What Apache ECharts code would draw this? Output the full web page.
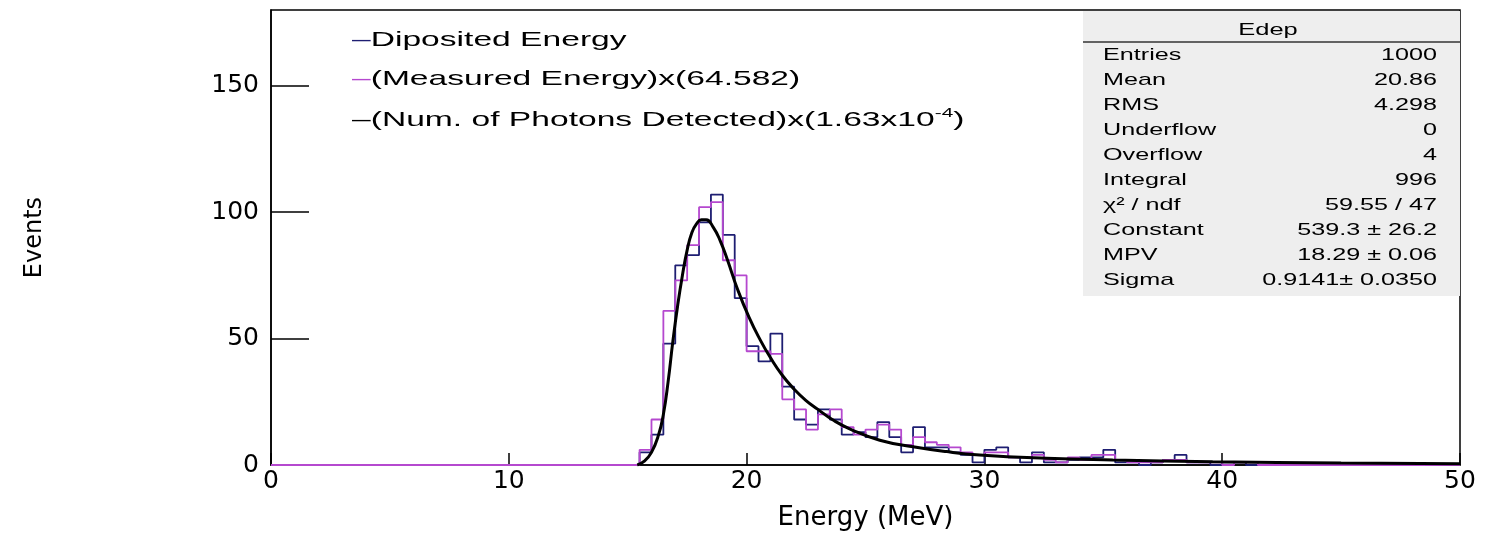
<!DOCTYPE html>
<html>
<head>
<meta charset="utf-8">
<script src="https://cdn.jsdelivr.net/npm/echarts@6/dist/echarts.min.js"></script>
<style>
html,body{margin:0;padding:0;background:#fff;}
#chart{width:1487px;height:536px;}
</style>
</head>
<body>
<div id="chart"></div>
<script>
// ---- data ----
const binWidth = 0.5; // MeV, 100 bins from 0 to 50
const xTicks = [0, 10, 20, 30, 40, 50];
const yTicks = [0, 50, 100, 150];

// Diposited Energy (navy histogram), counts per bin
const edepCounts = [
  0,0,0,0,0,0,0,0,0,0, 0,0,0,0,0,0,0,0,0,0, 0,0,0,0,0,0,0,0,0,0, 0,
  5,12,48,79,83,96,107,91,66,47,41,52,31,18,16,22,18,12,13,11,17,11,5,15,7,7,5,4,1,6,7,3,1,5,1,1,2,3,3,6,1,1,0,1,2,4,1,1,0,1,1,0,0,
  0,0,0,0,0,0,0,0,0,0,0,0,0,0,0,0
];
// (Measured Energy)x(64.582) (magenta histogram)
const measCounts = [
  0,0,0,0,0,0,0,0,0,0, 0,0,0,0,0,0,0,0,0,0, 0,0,0,0,0,0,0,0,0,0, 0,
  6,18,61,73,87,102,104,81,75,45,45,44,26,22,14,20,22,15,12,14,16,14,8,11,9,8,7,5,4,5,5,3,3,4,2,1,3,2,4,4,2,1,1,1,2,2,1,1,1,0,1,1,0,
  0,0,0,0,0,0,0,0,0,0,0,0,0,0,0,0
];
// Fit curve
const fitE = [15.4,15.7,16.0,16.3,16.5,16.7,16.9,17.1,17.3,17.5,17.7,17.9,18.1,18.3,18.6,18.9,19.2,19.6,20.1,20.6,21.0,21.5,22.0,22.5,23.0,23.6,24.4,25.6,27.0,28.4,29.8,32.6,35.4,39.6,45.0,50.0];
const fitY = [0,1.5,5,12,20,33,49,63,75,85,92,95.5,97,97,94,88.5,81,70,58.5,49,42.5,35.5,30,25.5,22,18,14,9.8,7.2,5.3,4.0,2.7,2.0,1.3,0.8,0.5];

const seriesNames = ['Diposited Energy', '(Measured Energy)x(64.582)', '(Num. of Photons Detected)x(1.63x10-4)'];
const seriesColors = ['#1e1e72', '#b548cf', '#000000'];

const statsTitle = 'Edep';
const statsLabels = ['Entries','Mean','RMS','Underflow','Overflow','Integral','χ² / ndf','Constant','MPV','Sigma'];
const statsValues = ['1000','20.86','4.298','0','4','996','59.55 / 47','539.3 ± 26.2','18.29 ± 0.06','0.9141± 0.0350'];

// ---- build ----
function stepData(counts){
  const d = counts.map((c,i)=>[i*binWidth, c]);
  d.push([counts.length*binWidth, counts[counts.length-1]]);
  return d;
}
const fitData = fitE.map((e,i)=>[e, fitY[i]]);

const FF = '"Liberation Sans", Arial, sans-serif';
const AX = '"DejaVu Sans", sans-serif';

const graphics = [];
// stats box
graphics.push({type:'rect', z:1, shape:{x:1083,y:11,width:377,height:285}, style:{fill:'#eeeeee'}});
graphics.push({type:'line', z:10, shape:{x1:1083,y1:42,x2:1460,y2:42}, style:{stroke:'#333',lineWidth:1.5}});
graphics.push({type:'text', z:10, x:1268, y:30, scaleX:1.5,
  style:{text:statsTitle, fontSize:17, fontFamily:FF, fill:'#000', align:'center', textAlign:'center', verticalAlign:'middle', textVerticalAlign:'middle'}});
statsLabels.forEach((lab,i)=>{
  const y = 55 + i*25;
  graphics.push({type:'text', z:10, x:1103, y:y, scaleX:1.48,
    style:{text:lab, fontSize:17, fontFamily:FF, fill:'#000', align:'left', textAlign:'left', verticalAlign:'middle', textVerticalAlign:'middle'}});
  graphics.push({type:'text', z:10, x:1437, y:y, scaleX:1.48,
    style:{text:statsValues[i], fontSize:17, fontFamily:FF, fill:'#000', align:'right', textAlign:'right', verticalAlign:'middle', textVerticalAlign:'middle'}});
});
// legend
const legRich = {
  d0:{fill:seriesColors[0], fontSize:21, fontFamily:FF, lineHeight:26},
  d1:{fill:seriesColors[1], fontSize:21, fontFamily:FF, lineHeight:26},
  d2:{fill:seriesColors[2], fontSize:21, fontFamily:FF, lineHeight:26},
  t:{fill:'#000', fontSize:21, fontFamily:FF, lineHeight:26},
  s:{fill:'#000', fontSize:13, fontFamily:FF, lineHeight:26, verticalAlign:'top'}
};
const legTexts = [
  '{d0|–}{t|Diposited Energy}',
  '{d1|–}{t|(Measured Energy)x(64.582)}',
  '{d2|–}{t|(Num. of Photons Detected)x(1.63x10}{s|-4}{t|)}'
];
const legY = [40, 79, 120];
legTexts.forEach((t,i)=>{
  graphics.push({type:'text', z:10, x:352, y:legY[i], scaleX:1.6,
    style:{text:t, rich:legRich, fontSize:21, fontFamily:FF, fill:'#000', align:'left', textAlign:'left', verticalAlign:'middle', textVerticalAlign:'middle'}});
});

const chart = echarts.init(document.getElementById('chart'), null, {renderer:'canvas'});
chart.setOption({
  animation:false,
  backgroundColor:'#ffffff',
  grid:{left:271, right:27, top:10, bottom:71, outerBoundsMode:'none', containLabel:false,
    show:true, borderColor:'#000', borderWidth:1.5, backgroundColor:'transparent'},
  xAxis:{
    type:'value', min:xTicks[0], max:xTicks[xTicks.length-1], interval:10,
    name:'Energy (MeV)', nameLocation:'middle', nameGap:40,
    nameTextStyle:{fontFamily:AX, fontSize:26, color:'#000'},
    axisLine:{show:true, onZero:false, lineStyle:{color:'#000', width:1.5}},
    axisTick:{show:true, inside:true, length:12, lineStyle:{color:'#000', width:1.5}},
    axisLabel:{fontFamily:AX, fontSize:25, color:'#000', margin:4},
    splitLine:{show:false}
  },
  yAxis:{
    type:'value', min:0, max:180, interval:50,
    name:'Events', nameLocation:'middle', nameGap:224, nameRotate:90,
    nameTextStyle:{fontFamily:AX, fontSize:24, color:'#000'},
    axisLine:{show:true, lineStyle:{color:'#000', width:1.5}},
    axisTick:{show:true, inside:true, length:38, lineStyle:{color:'#000', width:1.5}},
    axisLabel:{fontFamily:AX, fontSize:25, color:'#000', margin:12, showMaxLabel:false,
      formatter:function(v){ return yTicks.indexOf(v) >= 0 ? String(v) : ''; }},
    splitLine:{show:false}
  },
  graphic:{elements:graphics},
  series:[
    {name:seriesNames[0], type:'line', step:'end', data:stepData(edepCounts), showSymbol:false, z:3,
      lineStyle:{color:seriesColors[0], width:1.8}, itemStyle:{color:seriesColors[0]}},
    {name:seriesNames[1], type:'line', step:'end', data:stepData(measCounts), showSymbol:false, z:4,
      lineStyle:{color:seriesColors[1], width:1.8}, itemStyle:{color:seriesColors[1]}},
    {name:seriesNames[2], type:'line', smooth:0.5, data:fitData, showSymbol:false, z:5,
      lineStyle:{color:seriesColors[2], width:3}, itemStyle:{color:seriesColors[2]}}
  ]
});
</script>
</body>
</html>
